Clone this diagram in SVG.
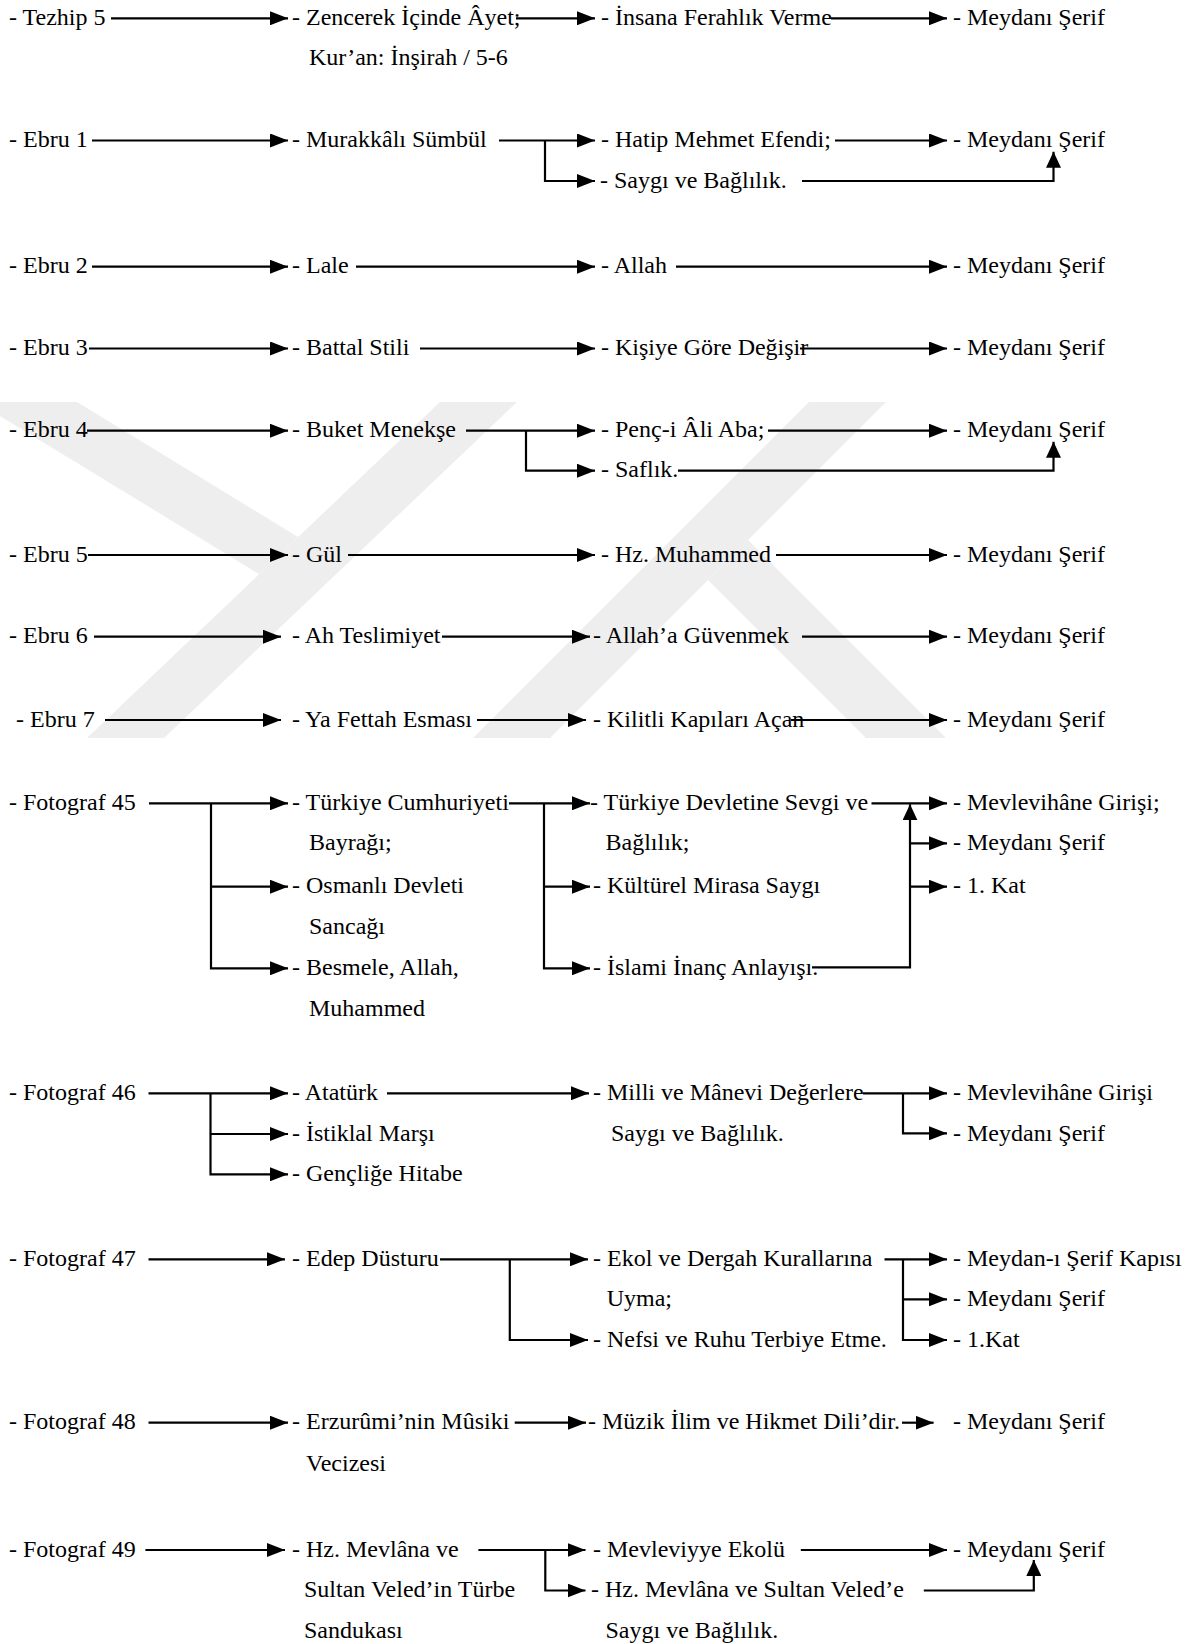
<svg xmlns="http://www.w3.org/2000/svg" width="1196" height="1644" viewBox="0 0 1196 1644">
<style>
text{font-family:"Liberation Serif","Times New Roman",serif;font-size:24px;fill:#000}
.c path{fill:none;stroke:#000;stroke-width:2.2}
.a{marker-end:url(#ah)}
.u{marker-end:url(#au)}
.wm{fill:#eeeeee}
</style>
<defs>
<marker id="ah" markerUnits="userSpaceOnUse" markerWidth="18" markerHeight="14" refX="18" refY="7" orient="auto"><path d="M0,0 L18,7 L0,14 Z" fill="#000"/></marker>
<marker id="au" markerUnits="userSpaceOnUse" markerWidth="16" markerHeight="15" refX="16" refY="7.5" orient="auto"><path d="M0,0 L16,7.5 L0,15 Z" fill="#000"/></marker>
</defs>
<rect width="1196" height="1644" fill="#fff"/>
<g id="watermark">
<polygon class="wm" points="0,402 77,402 298,537 259,574 0,416"/>
<polygon class="wm" points="440,402 517,402 164,738 87,738"/>
<polygon class="wm" points="809,402 886,402 550,738 473,738"/>
<polygon class="wm" points="708,580 748,540 946,738 866,738"/>
</g>
<g class="c" id="connectors">
<path class="a" d="M111,18.3 H288"/>
<path class="a" d="M516,18.3 H595"/>
<path class="a" d="M831,18.3 H947"/>
<path class="a" d="M92,140.5 H288"/>
<path class="a" d="M499,140.5 H595"/>
<path class="a" d="M545,140.5 V181 H595"/>
<path class="a" d="M835,140.5 H947"/>
<path class="u" d="M802,181 H1053.5 V151.7"/>
<path class="a" d="M92,266.7 H288"/>
<path class="a" d="M356,266.7 H595"/>
<path class="a" d="M676,266.7 H947"/>
<path class="a" d="M89,348.5 H288"/>
<path class="a" d="M420,348.5 H595"/>
<path class="a" d="M800,348.5 H947"/>
<path class="a" d="M87,430.7 H288"/>
<path class="a" d="M466,430.7 H595"/>
<path class="a" d="M526,430.7 V470.7 H595"/>
<path class="a" d="M768,430.7 H947"/>
<path class="u" d="M678,470.7 H1053.5 V441.7"/>
<path class="a" d="M88,555 H288"/>
<path class="a" d="M348,555 H595"/>
<path class="a" d="M776,555 H947"/>
<path class="a" d="M94,636.7 H281"/>
<path class="a" d="M442,636.7 H590"/>
<path class="a" d="M802,636.7 H947"/>
<path class="a" d="M105,720 H281"/>
<path class="a" d="M477,720 H586"/>
<path class="a" d="M791,720 H947"/>
<path class="a" d="M149,803.3 H288"/>
<path class="a" d="M211,803.3 V968.3 H288"/>
<path class="a" d="M211,886.7 H288"/>
<path class="a" d="M509,803.3 H590"/>
<path class="a" d="M544,803.3 V968.3 H590"/>
<path class="a" d="M544,886.7 H590"/>
<path class="a" d="M871.5,803.3 H947"/>
<path class="u" d="M812,967.3 H910 V804.3"/>
<path class="a" d="M910,843.3 H947"/>
<path class="a" d="M910,886.7 H947"/>
<path class="a" d="M148.5,1093.3 H288"/>
<path class="a" d="M210.5,1093.3 V1174.3 H288"/>
<path class="a" d="M210.5,1134 H288"/>
<path class="a" d="M387,1093.3 H589"/>
<path class="a" d="M863,1093.3 H947"/>
<path class="a" d="M903,1093.3 V1133.3 H947"/>
<path class="a" d="M148.5,1259.3 H285"/>
<path class="a" d="M440,1259.3 H588"/>
<path class="a" d="M509.8,1259.3 V1340 H588"/>
<path class="a" d="M884.5,1259.3 H947"/>
<path class="a" d="M903,1259.3 V1340 H947"/>
<path class="a" d="M903,1299.3 H947"/>
<path class="a" d="M148.5,1422.7 H288"/>
<path class="a" d="M514.7,1422.7 H586"/>
<path class="a" d="M902,1422.7 H933.6"/>
<path class="a" d="M145.4,1550 H285"/>
<path class="a" d="M478.4,1550 H585.5"/>
<path class="a" d="M545.3,1550 V1590.5 H585.5"/>
<path class="a" d="M800.8,1550 H947"/>
<path class="u" d="M923.8,1590.5 H1033.8 V1560"/>
</g>
<g id="n-tezhip5"><text x="9" y="24.8">- Tezhip 5</text></g>
<g id="n-zencerek"><text x="292" y="24.8">- Zencerek İçinde Âyet;</text><text x="309" y="65">Kur’an: İnşirah / 5-6</text></g>
<g id="n-insana"><text x="601" y="24.8">- İnsana Ferahlık Verme</text></g>
<g id="n-meydan0"><text x="953" y="24.8">- Meydanı Şerif</text></g>

<g id="n-ebru1"><text x="9" y="147">- Ebru 1</text></g>
<g id="n-murakkali"><text x="292" y="147">- Murakkâlı Sümbül</text></g>
<g id="n-hatip"><text x="601" y="147">- Hatip Mehmet Efendi;</text></g>
<g id="n-saygi1"><text x="600" y="187.5">- Saygı ve Bağlılık.</text></g>
<g id="n-meydan1"><text x="953" y="147">- Meydanı Şerif</text></g>

<g id="n-ebru2"><text x="9" y="273.2">- Ebru 2</text></g>
<g id="n-lale"><text x="292" y="273.2">- Lale</text></g>
<g id="n-allah"><text x="601" y="273.2">- Allah</text></g>
<g id="n-meydan2"><text x="953" y="273.2">- Meydanı Şerif</text></g>

<g id="n-ebru3"><text x="9" y="355">- Ebru 3</text></g>
<g id="n-battal"><text x="292" y="355">- Battal Stili</text></g>
<g id="n-kisiye"><text x="601" y="355">- Kişiye Göre Değişir</text></g>
<g id="n-meydan3"><text x="953" y="355">- Meydanı Şerif</text></g>

<g id="n-ebru4"><text x="9" y="437.2">- Ebru 4</text></g>
<g id="n-buket"><text x="292" y="437.2">- Buket Menekşe</text></g>
<g id="n-penc"><text x="601" y="437.2">- Penç-i Âli Aba;</text></g>
<g id="n-saflik"><text x="601" y="477.2">- Saflık.</text></g>
<g id="n-meydan4"><text x="953" y="437.2">- Meydanı Şerif</text></g>

<g id="n-ebru5"><text x="9" y="561.5">- Ebru 5</text></g>
<g id="n-gul"><text x="292" y="561.5">- Gül</text></g>
<g id="n-hzmuhammed"><text x="601" y="561.5">- Hz. Muhammed</text></g>
<g id="n-meydan5"><text x="953" y="561.5">- Meydanı Şerif</text></g>

<g id="n-ebru6"><text x="9" y="643.2">- Ebru 6</text></g>
<g id="n-ah"><text x="292" y="643.2">- Ah Teslimiyet</text></g>
<g id="n-allaha"><text x="593" y="643.2">- Allah’a Güvenmek</text></g>
<g id="n-meydan6"><text x="953" y="643.2">- Meydanı Şerif</text></g>

<g id="n-ebru7"><text x="16" y="726.5">- Ebru 7</text></g>
<g id="n-fettah"><text x="292" y="726.5">- Ya Fettah Esması</text></g>
<g id="n-kilitli"><text x="593" y="726.5">- Kilitli Kapıları Açan</text></g>
<g id="n-meydan7"><text x="953" y="726.5">- Meydanı Şerif</text></g>

<g id="n-f45"><text x="9" y="809.8">- Fotograf 45</text></g>
<g id="n-bayrak"><text x="292" y="809.8">- Türkiye Cumhuriyeti</text><text x="309" y="849.8">Bayrağı;</text></g>
<g id="n-sancak"><text x="292" y="893.2">- Osmanlı Devleti</text><text x="309" y="933.5">Sancağı</text></g>
<g id="n-besmele"><text x="292" y="974.8">- Besmele, Allah,</text><text x="309" y="1015.5">Muhammed</text></g>
<g id="n-devlet"><text x="590" y="809.8">- Türkiye Devletine Sevgi ve</text><text x="605.5" y="849.8">Bağlılık;</text></g>
<g id="n-kulturel"><text x="593" y="893.2">- Kültürel Mirasa Saygı</text></g>
<g id="n-islami"><text x="593" y="974.8">- İslami İnanç Anlayışı.</text></g>
<g id="n-mevlevihane45"><text x="953" y="809.8">- Mevlevihâne Girişi;</text></g>
<g id="n-meydan45"><text x="953" y="849.8">- Meydanı Şerif</text></g>
<g id="n-kat45"><text x="953" y="893.2">- 1. Kat</text></g>

<g id="n-f46"><text x="9" y="1099.8">- Fotograf 46</text></g>
<g id="n-ataturk"><text x="292" y="1099.8">- Atatürk</text></g>
<g id="n-istiklal"><text x="292" y="1140.5">- İstiklal Marşı</text></g>
<g id="n-genclige"><text x="292" y="1180.8">- Gençliğe Hitabe</text></g>
<g id="n-milli"><text x="593" y="1099.8">- Milli ve Mânevi Değerlere</text><text x="611" y="1140.5">Saygı ve Bağlılık.</text></g>
<g id="n-mevlevihane46"><text x="953" y="1099.8">- Mevlevihâne Girişi</text></g>
<g id="n-meydan46"><text x="953" y="1140.5">- Meydanı Şerif</text></g>

<g id="n-f47"><text x="9" y="1265.8">- Fotograf 47</text></g>
<g id="n-edep"><text x="292" y="1265.8">- Edep Düsturu</text></g>
<g id="n-ekol"><text x="593" y="1265.8">- Ekol ve Dergah Kurallarına</text><text x="606.7" y="1305.8">Uyma;</text></g>
<g id="n-nefsi"><text x="593" y="1346.5">- Nefsi ve Ruhu Terbiye Etme.</text></g>
<g id="n-kapisi"><text x="953" y="1265.8">- Meydan-ı Şerif Kapısı</text></g>
<g id="n-meydan47"><text x="953" y="1305.8">- Meydanı Şerif</text></g>
<g id="n-kat47"><text x="953" y="1346.5">- 1.Kat</text></g>

<g id="n-f48"><text x="9" y="1429.2">- Fotograf 48</text></g>
<g id="n-erzurumi"><text x="292" y="1429.2">- Erzurûmi’nin Mûsiki</text><text x="306" y="1470.5">Vecizesi</text></g>
<g id="n-muzik"><text x="588" y="1429.2">- Müzik İlim ve Hikmet Dili’dir.</text></g>
<g id="n-meydan48"><text x="953" y="1429.2">- Meydanı Şerif</text></g>

<g id="n-f49"><text x="9" y="1556.5">- Fotograf 49</text></g>
<g id="n-turbe"><text x="292" y="1556.5">- Hz. Mevlâna ve</text><text x="304" y="1597">Sultan Veled’in Türbe</text><text x="304" y="1637.5">Sandukası</text></g>
<g id="n-mevleviyye"><text x="593" y="1556.5">- Mevleviyye Ekolü</text></g>
<g id="n-veled"><text x="591" y="1597">- Hz. Mevlâna ve Sultan Veled’e</text><text x="605.5" y="1637.5">Saygı ve Bağlılık.</text></g>
<g id="n-meydan49"><text x="953" y="1556.5">- Meydanı Şerif</text></g>
</svg>
